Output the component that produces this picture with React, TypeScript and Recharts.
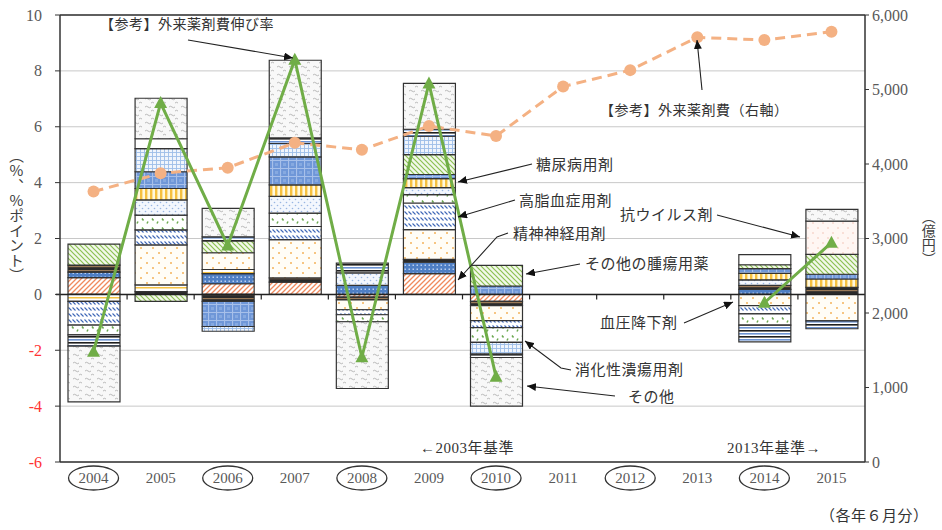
import React from 'react';
import { ComposedChart, Bar, Line, XAxis, YAxis, CartesianGrid, ReferenceLine } from 'recharts';

const years = ['2004', '2005', '2006', '2007', '2008', '2009', '2010', '2011', '2012', '2013', '2014', '2015'];
const circledYears = ['2004', '2006', '2008', '2010', '2012', '2014'];

// 区分別寄与度（%ポイント）  2011〜2013 は棒なし
const psychoneuro = [0.6, 0, 0.38, 0.44, -0.1, 0.74, -0.25, null, null, null, 0, 0];
const darkBlueDots = [0.2, 0, 0.36, 0, 0.32, 0.41, 0, null, null, null, 0.18, 0];
const darkStripeA = [0.25, 0.1, -0.25, 0.15, -0.1, 0.1, -0.15, null, null, null, 0.14, 0.25];
const yellowLine = [-0.25, 0.24, 0.15, 0, 0, 0, 0, null, null, null, 0, 0];
const antihypertensive = [0, 1.43, 0.6, 1.37, -0.35, 1.07, -0.54, null, null, null, -0.4, -0.95];
const hyperlipidemia = [-0.85, 0.54, 0, 0.47, -0.18, 0.95, -0.25, null, null, null, -0.3, 0];
const pepticUlcer = [-0.35, 0.53, 0, 0.48, -0.25, 0.3, -0.53, null, null, null, -0.4, 0];
const paleBlueDots = [0, 0.54, 0, 0.6, 0.45, 0.25, 0, null, null, null, 0.2, 0];
const diabetes = [0, 0.41, 0, 0.41, 0, 0.32, 0, null, null, null, 0.23, 0.3];
const blueCheck = [0, 0.6, -0.9, 1.0, 0, 0.15, 0.3, null, null, null, 0.17, 0.17];
const otherTumor = [0.75, -0.25, 0.42, 0, 0, 0.71, 0.74, null, null, null, 0.14, 0.71];
const paleBlueGrid = [0, 0.83, -0.17, 0.48, 0, 0.66, -0.42, null, null, null, 0, 0];
const darkStripeB = [-0.4, 0, 0.15, 0.2, 0.35, 0.25, -0.12, null, null, null, -0.6, -0.28];
const antiviral = [0, 0, 0, 0, 0, 0, 0, null, null, null, 0, 1.19];
const blank = [0, 0.35, 0, 0, 0, 0, 0, null, null, null, 0.36, 0];
const others = [-2.0, 1.45, 1.02, 2.78, -2.39, 1.64, -1.74, null, null, null, 0, 0.42];

// 【参考】外来薬剤費伸び率（%）と外来薬剤費（億円）
const growthRate = [-2.05, 6.85, 1.75, 8.4, -2.25, 7.55, -2.95, null, null, null, -0.3, 1.85];
const outpatientCost = [3630, 3875, 3950, 4285, 4190, 4510, 4375, 5040, 5260, 5700, 5665, 5775];

const leftTicks = [-6, -4, -2, 0, 2, 4, 6, 8, 10];
const rightTicks = [0, 1000, 2000, 3000, 4000, 5000, 6000];

const series = [
  { key: 'psychoneuro', name: '精神神経用剤', pattern: 'p-psy', values: psychoneuro },
  { key: 'darkBlueDots', name: '区分A', pattern: 'p-dbd', values: darkBlueDots },
  { key: 'darkStripeA', name: '区分B', pattern: 'p-dsa', values: darkStripeA },
  { key: 'yellowLine', name: '区分C', pattern: 'p-yl', values: yellowLine },
  { key: 'antihypertensive', name: '血圧降下剤', pattern: 'p-bp', values: antihypertensive },
  { key: 'hyperlipidemia', name: '高脂血症用剤', pattern: 'p-hl', values: hyperlipidemia },
  { key: 'pepticUlcer', name: '消化性潰瘍用剤', pattern: 'p-pu', values: pepticUlcer },
  { key: 'paleBlueDots', name: '区分D', pattern: 'p-pbd', values: paleBlueDots },
  { key: 'diabetes', name: '糖尿病用剤', pattern: 'p-dm', values: diabetes },
  { key: 'blueCheck', name: '区分E', pattern: 'p-bc', values: blueCheck },
  { key: 'otherTumor', name: 'その他の腫瘍用薬', pattern: 'p-tu', values: otherTumor },
  { key: 'paleBlueGrid', name: '区分F', pattern: 'p-pbg', values: paleBlueGrid },
  { key: 'darkStripeB', name: '区分G', pattern: 'p-dsb', values: darkStripeB },
  { key: 'antiviral', name: '抗ウイルス剤', pattern: 'p-av', values: antiviral },
  { key: 'blank', name: '区分H', pattern: 'p-wh', values: blank },
  { key: 'others', name: 'その他', pattern: 'p-oth', values: others },
];

const numFont = '"Liberation Serif", "DejaVu Serif", serif';
const jpFont = '"Liberation Serif", "Noto Sans CJK JP", serif';
const axisGray = '#595959';

function PatternDefs() {
  const u = 'userSpaceOnUse';
  return (
    <svg width={0} height={0} style={{ position: 'absolute' }}>
      <defs>
        <pattern id="p-psy" width={5} height={5} patternUnits={u}>
          <rect width={5} height={5} fill="#fff" />
          <path d="M-1,1 L1,-1 M0,5 L5,0 M4,6 L6,4" stroke="#f08a5d" strokeWidth={1.3} />
        </pattern>
        <pattern id="p-dbd" width={4} height={4} patternUnits={u}>
          <rect width={4} height={4} fill="#4f7fc4" />
          <rect x={0.5} y={0.5} width={1.5} height={1.5} fill="#b9cff0" />
        </pattern>
        <pattern id="p-dsa" width={4} height={4} patternUnits={u}>
          <rect width={4} height={4} fill="#2a2a2a" />
          <rect y={2} width={4} height={1.2} fill="#9a7a58" />
        </pattern>
        <pattern id="p-yl" width={6} height={5} patternUnits={u}>
          <rect width={6} height={5} fill="#fff" />
          <rect y={2} width={6} height={1.5} fill="#f5c242" />
        </pattern>
        <pattern id="p-bp" width={12} height={10} patternUnits={u}>
          <rect width={12} height={10} fill="#fffdf6" />
          <circle cx={3} cy={3} r={1} fill="#f3b25a" />
          <circle cx={9} cy={8} r={1} fill="#f3b25a" />
        </pattern>
        <pattern id="p-hl" width={4} height={6} patternUnits={u}>
          <rect width={4} height={6} fill="#fff" />
          <path d="M0.5,1.5 L3.5,4.5" stroke="#3f68b8" strokeWidth={1.1} />
        </pattern>
        <pattern id="p-pu" width={10} height={9} patternUnits={u}>
          <rect width={10} height={9} fill="#fff" />
          <path d="M2,2.5 l1.5,2 M7,7.5 l1,-2" stroke="#6aa84f" strokeWidth={1.5} />
        </pattern>
        <pattern id="p-pbd" width={6} height={6} patternUnits={u}>
          <rect width={6} height={6} fill="#f3f7fd" />
          <circle cx={1.5} cy={1.5} r={0.8} fill="#98b6e2" />
          <circle cx={4.5} cy={4.5} r={0.8} fill="#98b6e2" />
        </pattern>
        <pattern id="p-dm" width={5} height={5} patternUnits={u}>
          <rect width={5} height={5} fill="#fff8dc" />
          <rect width={2.4} height={5} fill="#f5c040" />
        </pattern>
        <pattern id="p-bc" width={8} height={8} patternUnits={u}>
          <rect width={8} height={8} fill="#6f97d8" />
          <path d="M0,0.5 H8 M0.5,0 V8" stroke="#a7c0ea" strokeWidth={1.2} />
          <rect x={3} y={3} width={3} height={3} fill="#86a9e0" />
        </pattern>
        <pattern id="p-tu" width={5} height={5} patternUnits={u}>
          <rect width={5} height={5} fill="#f2f8ea" />
          <path d="M-1,4 L1,6 M0,0 L5,5 M4,-1 L6,1" stroke="#8cc152" strokeWidth={1.2} />
        </pattern>
        <pattern id="p-pbg" width={4} height={4} patternUnits={u}>
          <rect width={4} height={4} fill="#f0f5fc" />
          <path d="M0,0.5 H4 M0.5,0 V4" stroke="#9dbde8" strokeWidth={0.9} />
        </pattern>
        <pattern id="p-dsb" width={6} height={6} patternUnits={u}>
          <rect width={6} height={6} fill="#ffffff" />
          <rect y={0} width={6} height={1.6} fill="#1f1f1f" />
          <rect y={3} width={6} height={1.6} fill="#6c93d3" />
        </pattern>
        <pattern id="p-av" width={10} height={10} patternUnits={u}>
          <rect width={10} height={10} fill="#fff6f3" />
          <circle cx={3} cy={3} r={0.7} fill="#f0b4a4" />
          <circle cx={8} cy={8} r={0.7} fill="#f0b4a4" />
        </pattern>
        <pattern id="p-wh" width={4} height={4} patternUnits={u}>
          <rect width={4} height={4} fill="#fff" />
        </pattern>
        <pattern id="p-oth" width={12} height={8} patternUnits={u}>
          <rect width={12} height={8} fill="#f8f8f8" />
          <path d="M1,3 q1.5,-1.5 3,0 t3,0" stroke="#a8a8a8" strokeWidth={0.8} fill="none" />
          <path d="M7,7 q1.5,-1.5 3,0" stroke="#a8a8a8" strokeWidth={0.8} fill="none" />
        </pattern>
        <marker id="arrowHead" markerWidth={9} markerHeight={8} refX={9} refY={4} orient="auto" markerUnits="userSpaceOnUse">
          <path d="M0,0 L9,4 L0,8 z" fill="#111" />
        </marker>
      </defs>
    </svg>
  );
}

const YearTick = (props: any) => {
  const { x, y, payload } = props;
  const yr = payload.value;
  return (
    <g>
      <text x={x} y={y + 13} textAnchor="middle" fontSize={15} fill={axisGray} fontFamily={numFont}>
        {yr}
      </text>
      {circledYears.includes(yr) && (
        <ellipse cx={x} cy={y + 8} rx={25} ry={12} fill="none" stroke="#333" strokeWidth={1.3} />
      )}
    </g>
  );
};

const LeftTick = (props: any) => {
  const { x, y, payload } = props;
  const v = payload.value;
  return (
    <text x={x} y={y} dy="0.35em" textAnchor="end" fontSize={16} fontFamily={numFont} fill={v < 0 ? '#ff3333' : axisGray}>
      {v}
    </text>
  );
};

const ZeroLine = (p: any) => {
  const { x1, x2, y1 } = p;
  const step = (x2 - x1) / years.length;
  const marks = years.slice(1).map((_, i) => x1 + step * (i + 1));
  return (
    <g>
      <line x1={x1 - 4} x2={x2} y1={y1} y2={y1} stroke="#222" strokeWidth={1.5} />
      {marks.map((t) => (
        <line key={t} x1={t} x2={t} y1={y1} y2={y1 + 5} stroke="#222" strokeWidth={1.2} />
      ))}
    </g>
  );
};

const TriangleDot = (p: any) => {
  const { cx, cy, value, index } = p;
  if (value == null || cx == null || cy == null) return <g key={`t${index}`} />;
  return <polygon key={`t${index}`} points={`${cx},${cy - 7} ${cx + 6.5},${cy + 5} ${cx - 6.5},${cy + 5}`} fill="#70ad47" />;
};

const CircleDot = (p: any) => {
  const { cx, cy, index } = p;
  if (cx == null || cy == null) return <g key={`c${index}`} />;
  return <circle key={`c${index}`} cx={cx} cy={cy} r={6} fill="#f4b183" />;
};

function Annotations() {
  const t = { fontFamily: jpFont, fontSize: 15, fill: '#333', letterSpacing: 0.5 } as const;
  const ln = { stroke: '#222', strokeWidth: 1.1, fill: 'none', markerEnd: 'url(#arrowHead)' } as const;
  return (
    <svg width={942} height={530} style={{ position: 'absolute', left: 0, top: 0, pointerEvents: 'none' }}>
      <text x={100} y={29} {...t} fontSize={14}>【参考】外来薬剤費伸び率</text>
      <path d="M188,40 L293,58" {...ln} />
      <text x={600} y={115} {...t} fontSize={14}>【参考】外来薬剤費（右軸）</text>
      <path d="M702,90 L697,40" {...ln} />
      <text x={536} y={170} {...t}>糖尿病用剤</text>
      <path d="M532,164 L458,182" {...ln} />
      <text x={519} y={206} {...t}>高脂血症用剤</text>
      <path d="M515,200 L458,217" {...ln} />
      <text x={513} y={239} {...t}>精神神経用剤</text>
      <path d="M508,233 L497,237 L458,280" {...ln} />
      <text x={585} y={269} {...t}>その他の腫瘍用薬</text>
      <path d="M580,264 L526,274" {...ln} />
      <text x={620} y={220} {...t}>抗ウイルス剤</text>
      <path d="M717,215 L800,237" {...ln} />
      <text x={600} y={328} {...t}>血圧降下剤</text>
      <path d="M684,323 L733,302" {...ln} />
      <text x={575} y={375} {...t}>消化性潰瘍用剤</text>
      <path d="M571,370 L561,368 L525,341" {...ln} />
      <text x={628} y={402} {...t}>その他</text>
      <path d="M615,396 L527,386" {...ln} />
      <text x={420} y={453} {...t}>←2003年基準</text>
      <text x={727} y={453} {...t}>2013年基準→</text>
      <text x={820} y={521} {...t}>（各年６月分）</text>
    </svg>
  );
}

export default function App() {
  const data = years.map((year, i) => {
    const row: Record<string, any> = { year, rate: growthRate[i], cost: outpatientCost[i] };
    series.forEach((s) => {
      row[s.key] = s.values[i];
    });
    return row;
  });

  return (
    <div style={{ position: 'absolute', left: 0, top: 0, width: 942, height: 530, background: '#fff' }}>
      <PatternDefs />
      <ComposedChart
        width={942}
        height={530}
        data={data}
        stackOffset="sign"
        barSize={52}
        margin={{ top: 15, right: 0, bottom: 38, left: 0 }}
      >
        <CartesianGrid yAxisId="left" vertical={false} stroke="#c8c8c8" />
        <XAxis
          dataKey="year"
          interval={0}
          height={30}
          tickSize={6}
          tickMargin={2}
          tickLine={false}
          axisLine={{ stroke: '#333', strokeWidth: 1.5 }}
          tick={<YearTick />}
        />
        <YAxis
          yAxisId="left"
          domain={[-6, 10]}
          ticks={leftTicks}
          width={60}
          tickSize={5}
          tickMargin={13}
          axisLine={{ stroke: '#333', strokeWidth: 1.5 }}
          tickLine={{ stroke: '#333' }}
          tick={<LeftTick />}
        />
        <YAxis
          yAxisId="right"
          orientation="right"
          domain={[0, 6000]}
          ticks={rightTicks}
          width={77}
          tickSize={4}
          tickMargin={3}
          axisLine={{ stroke: '#333', strokeWidth: 1.5 }}
          tickLine={{ stroke: '#333' }}
          tickFormatter={(v: number) => v.toLocaleString('en-US')}
          tick={{ fill: axisGray, fontSize: 16, fontFamily: numFont }}
        />
        {series.map((s) => (
          <Bar
            key={s.key}
            yAxisId="left"
            dataKey={s.key}
            name={s.name}
            stackId="drug"
            fill={`url(#${s.pattern})`}
            stroke="#333"
            strokeWidth={1.2}
            isAnimationActive={false}
          />
        ))}
        <ReferenceLine yAxisId="left" y={0} shape={ZeroLine} />
        <ReferenceLine yAxisId="left" y={10} stroke="#333" strokeWidth={1.5} />
        <Line
          yAxisId="right"
          dataKey="cost"
          name="【参考】外来薬剤費（右軸）"
          stroke="#f4b183"
          strokeWidth={3}
          strokeDasharray="10 6"
          dot={CircleDot}
          isAnimationActive={false}
        />
        <Line
          yAxisId="left"
          dataKey="rate"
          name="【参考】外来薬剤費伸び率"
          stroke="#70ad47"
          strokeWidth={3}
          dot={TriangleDot}
          connectNulls={false}
          isAnimationActive={false}
        />
      </ComposedChart>
      <Annotations />
      <div
        style={{
          position: 'absolute',
          left: 7,
          top: 148,
          writingMode: 'vertical-rl',
          textOrientation: 'upright',
          fontFamily: '"Noto Sans CJK JP", sans-serif',
          fontSize: 15,
          color: '#404040',
          lineHeight: 1.2,
        }}
      >
        （%、%ポイント）
      </div>
      <div
        style={{
          position: 'absolute',
          left: 920,
          top: 210,
          writingMode: 'vertical-rl',
          fontFamily: '"Noto Sans CJK JP", sans-serif',
          fontSize: 14,
          color: '#404040',
          lineHeight: 1.2,
        }}
      >
        （億円）
      </div>
    </div>
  );
}
